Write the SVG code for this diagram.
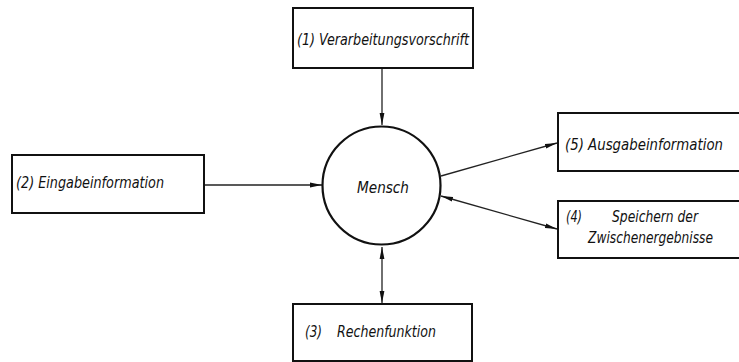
<svg xmlns="http://www.w3.org/2000/svg" width="739" height="362" viewBox="0 0 739 362">
<style>
.box{fill:#fff;stroke:#111;stroke-width:2}
.c{fill:#fff;stroke:#111;stroke-width:2.2}
.t{font-family:"DejaVu Sans Condensed","Liberation Sans",sans-serif;font-style:italic;font-size:15.5px;fill:#111}
.l{stroke:#222;stroke-width:1.3;fill:none}
</style>
<defs>
<marker id="ah" viewBox="0 0 12 6" refX="12" refY="3" markerWidth="12" markerHeight="6" markerUnits="userSpaceOnUse" orient="auto-start-reverse">
<path d="M0,0.6 L12,3 L0,5.4 Z" fill="#111"/>
</marker>
</defs>
<rect width="739" height="362" fill="#fff"/>
<g id="connectors">
<line class="l" x1="382" y1="69" x2="382" y2="125" marker-end="url(#ah)"/>
<line class="l" x1="205" y1="185" x2="322" y2="185" marker-end="url(#ah)"/>
<line class="l" x1="382" y1="247" x2="382" y2="303" marker-start="url(#ah)" marker-end="url(#ah)"/>
<line class="l" x1="441" y1="176" x2="557" y2="143" marker-end="url(#ah)"/>
<line class="l" x1="441" y1="196" x2="557" y2="229" marker-start="url(#ah)" marker-end="url(#ah)"/>
</g>
<g id="n1">
<rect class="box" x="293" y="8" width="180" height="60"/>
<text class="t" x="297" y="45" textLength="172" lengthAdjust="spacingAndGlyphs">(1) Verarbeitungsvorschrift</text>
</g>
<g id="n2">
<rect class="box" x="12" y="155" width="192" height="58"/>
<text class="t" x="16" y="188" textLength="148" lengthAdjust="spacingAndGlyphs">(2) Eingabeinformation</text>
</g>
<g id="mensch">
<circle class="c" cx="381.5" cy="185.5" r="59"/>
<text class="t" x="357" y="193" textLength="52" lengthAdjust="spacingAndGlyphs">Mensch</text>
</g>
<g id="n5">
<rect class="box" x="558" y="113" width="190" height="58"/>
<text class="t" x="565" y="150" textLength="158" lengthAdjust="spacingAndGlyphs">(5) Ausgabeinformation</text>
</g>
<g id="n4">
<rect class="box" x="558" y="201" width="190" height="57"/>
<text class="t" x="566" y="222" textLength="16" lengthAdjust="spacingAndGlyphs">(4)</text>
<text class="t" x="612" y="222" textLength="86" lengthAdjust="spacingAndGlyphs">Speichern der</text>
<text class="t" x="588" y="243" textLength="125" lengthAdjust="spacingAndGlyphs">Zwischenergebnisse</text>
</g>
<g id="n3">
<rect class="box" x="293" y="304" width="179" height="57"/>
<text class="t" x="305" y="337" textLength="17" lengthAdjust="spacingAndGlyphs">(3)</text>
<text class="t" x="337" y="337" textLength="99" lengthAdjust="spacingAndGlyphs">Rechenfunktion</text>
</g>
</svg>
